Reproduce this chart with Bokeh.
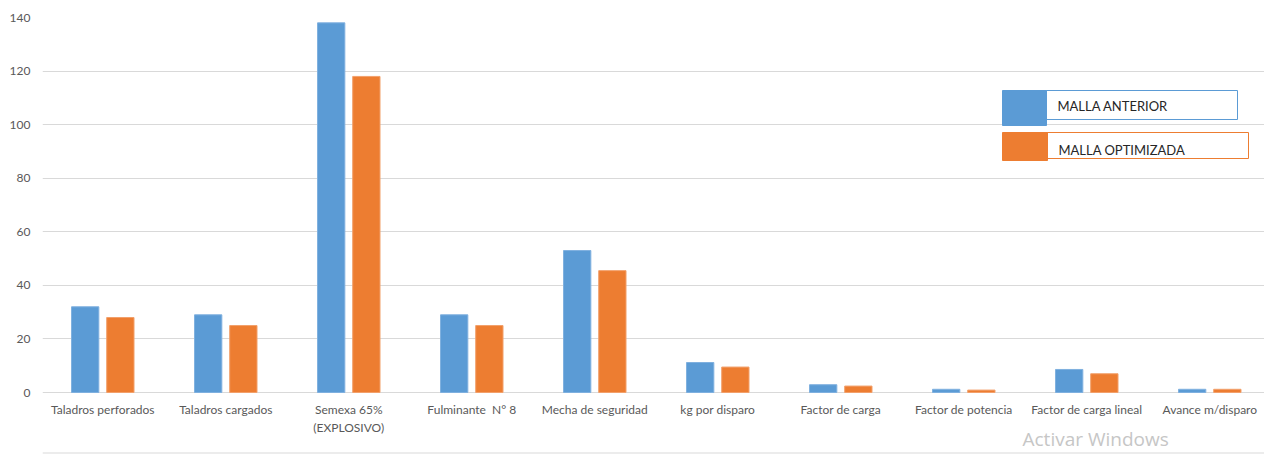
from bokeh.plotting import figure
from bokeh.models import Range1d, FixedTicker, Label, Span, ColumnDataSource
from bokeh.core.properties import value
from bokeh.embed import file_html
from bokeh.resources import INLINE

categories = ["Taladros perforados", "Taladros cargados", "Semexa 65%\n(EXPLOSIVO)",
              "Fulminante \u00a0N° 8", "Mecha de seguridad", "kg por disparo",
              "Factor de carga", "Factor de potencia", "Factor de carga lineal",
              "Avance m/disparo"]
malla_anterior = [32, 29, 138, 29, 53, 11.2, 2.9, 1.2, 8.6, 1.2]
malla_optimizada = [28, 25, 118, 25, 45.5, 9.5, 2.4, 0.9, 7.0, 1.2]
series_names = ["MALLA ANTERIOR", "MALLA OPTIMIZADA"]
colors = ["#5b9bd5", "#ed7d31"]
y_ticks = [0, 20, 40, 60, 80, 100, 120, 140]

W, H = 1264, 454
L, T = 42, 17
ZERO_PX = 392          # pixel row of value 0
x0, x1 = -0.49, 9.445
y_top = 140
PX_PER_UNIT = (ZERO_PX - T) / y_top
y_bottom = -(H - ZERO_PX) / PX_PER_UNIT

p = figure(width=W, height=H, output_backend="svg", toolbar_location=None,
           x_range=Range1d(x0, x1), y_range=Range1d(y_bottom, y_top),
           min_border_left=L, min_border_right=0, min_border_top=T, min_border_bottom=0)
p.outline_line_color = None
p.background_fill_color = "white"
p.border_fill_color = "white"

FONT = "Lato"
LABEL_COLOR = "#595959"

FW = W - L
def dx(px):
    return x0 + (px - L) / FW * (x1 - x0)
def dy(py):
    return y_top - (py - T) / PX_PER_UNIT

xs = list(range(len(categories)))
off = 0.143
bw = 0.222
p.vbar(x=[x - off for x in xs], top=malla_anterior, width=bw, bottom=0,
       fill_color=colors[0], line_color="#7fb0df", line_width=1)
p.vbar(x=[x + off for x in xs], top=malla_optimizada, width=bw, bottom=0,
       fill_color=colors[1], line_color="#f2a06b", line_width=1)

# category labels under the baseline
lab_src = ColumnDataSource(dict(x=xs, y=[dy(401)] * len(xs), text=categories))
p.text(x="x", y="y", text="text", source=lab_src, text_align="center",
       text_baseline="top", text_font=value(FONT), text_font_size="12px",
       text_color=LABEL_COLOR, text_line_height=1.25)

p.xaxis.visible = False

p.yaxis.ticker = FixedTicker(ticks=y_ticks)
p.yaxis.axis_line_color = None
p.yaxis.major_tick_line_color = None
p.yaxis.minor_tick_line_color = None
p.yaxis.major_tick_out = 0
p.yaxis.major_tick_in = 0
p.yaxis.major_label_standoff = 12
p.yaxis.major_label_text_font = FONT
p.yaxis.major_label_text_font_size = "12px"
p.yaxis.major_label_text_color = LABEL_COLOR

p.xgrid.grid_line_color = None
p.ygrid.grid_line_color = "#d9d9d9"
p.ygrid.grid_line_width = 1

# custom legend (boxed labels with colored swatches)
boxes = [
    dict(sw=(1002, 1046, 90, 125), box=(1046, 1237, 90, 119), tx=1057, ty=105),
    dict(sw=(1002, 1047, 132, 160), box=(1047, 1248, 132, 158), tx=1058, ty=149),
]
for b, name, col in zip(boxes, series_names, colors):
    l, r, t, bt = b["box"]
    p.quad(left=[dx(l)], right=[dx(r)], top=[dy(t)], bottom=[dy(bt)],
           fill_color="white", line_color=col, line_width=1)
    l, r, t, bt = b["sw"]
    p.quad(left=[dx(l)], right=[dx(r)], top=[dy(t)], bottom=[dy(bt)],
           fill_color=col, line_color=col, line_width=1)
    p.add_layout(Label(x=dx(b["tx"]), y=dy(b["ty"]), text=name, text_font=FONT,
                       text_font_size="13px", text_color="#262626",
                       text_baseline="middle", text_align="left"))

# bottom border line and watermark
p.add_layout(Span(location=dy(452.5), dimension="width", line_color="#d9d9d9", line_width=1))
p.add_layout(Label(x=dx(1022), y=dy(451), text="Activar Windows", text_font="Open Sans",
                   text_font_size="19px", text_color="#c6c6c6", text_baseline="bottom"))

open("out.html", "w").write(file_html(p, INLINE))
